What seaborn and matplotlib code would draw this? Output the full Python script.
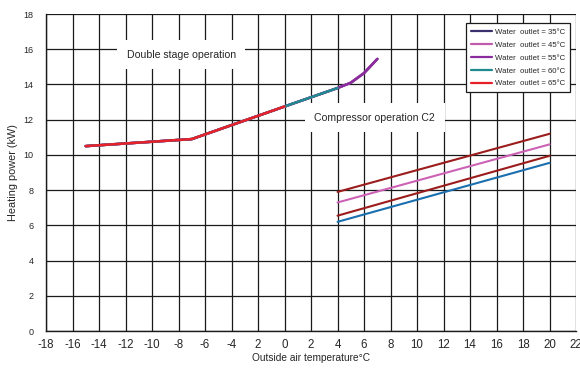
import matplotlib
matplotlib.use("Agg")
import matplotlib.pyplot as plt
import seaborn as sns
import pandas as pd

# Double stage operation curve (shared by all outlet temperatures)
ds_temp = [-15, -7, 0, 4, 5, 6, 7]
ds_power = [10.5, 10.9, 12.75, 13.8, 14.1, 14.65, 15.45]

# Outlet temperature series and how far each runs on the double stage curve
outlets = ["Water  outlet = 35°C", "Water  outlet = 45°C", "Water  outlet = 55°C",
           "Water  outlet = 60°C", "Water  outlet = 65°C"]
outlet_end = [7, 7, 7, 4, 0]
outlet_colors = ["#3b2f6e", "#c25aae", "#8a2c9e", "#1f8a8f", "#e8202a"]

# Compressor operation C2 lines
c2_temp = [4, 20]
c2_upper = [7.9, 11.2]
c2_pink = [7.3, 10.6]
c2_lower = [6.55, 9.95]
c2_blue = [6.2, 9.55]
c2_colors = ["#9b1c1c", "#cc62b6", "#9b1c1c", "#1a6fae"]

x_ticks = list(range(-18, 23, 2))
x_labels = ["-18", "-16", "-14", "-12", "-10", "-8", "-6", "-4", "2", "0",
            "2", "4", "6", "8", "10", "12", "14", "16", "18", "20", "22"]
y_ticks = list(range(0, 19, 2))

sns.set_style("white")
plt.rcParams["font.family"] = ["Liberation Sans", "DejaVu Sans"]

fig = plt.figure(figsize=(5.8, 3.72), dpi=100)
ax = fig.add_axes([0.0793, 0.1102, 0.914, 0.852])

rows = []
for name, end in zip(outlets, outlet_end):
    for t, p in zip(ds_temp, ds_power):
        if t <= end:
            rows.append({"temp": t, "power": p, "series": name})
ds_df = pd.DataFrame(rows)
sns.lineplot(data=ds_df, x="temp", y="power", hue="series", hue_order=outlets,
             palette=outlet_colors, sort=False, linewidth=1.8, ax=ax, zorder=3)

c2_rows = []
for i, vals in enumerate([c2_upper, c2_pink, c2_lower, c2_blue]):
    for t, p in zip(c2_temp, vals):
        c2_rows.append({"temp": t, "power": p, "line": f"c2_{i}"})
c2_df = pd.DataFrame(c2_rows)
for i, (key, grp) in enumerate(c2_df.groupby("line", sort=True)):
    sns.lineplot(data=grp, x="temp", y="power", color=c2_colors[i],
                 linewidth=1.5, ax=ax, legend=False, zorder=3)

ax.set_xlim(-18, 22)
ax.set_ylim(0, 18)
ax.set_xticks(x_ticks)
ax.set_xticklabels(x_labels, fontsize=8.3)
ax.set_yticks(y_ticks)
ax.set_yticklabels([str(v) for v in y_ticks], fontsize=6.5)
ax.grid(True, color="#1a1a1a", linewidth=0.9)
ax.set_axisbelow(True)
for side in ["top", "right"]:
    ax.spines[side].set_visible(False)
for side in ["left", "bottom"]:
    ax.spines[side].set_color("#1a1a1a")
    ax.spines[side].set_linewidth(1.0)
ax.tick_params(axis="x", direction="inout", length=6, width=0.9, pad=3)
ax.tick_params(axis="y", direction="out", length=4, width=0.9, pad=5)

ax.set_xlabel("Outside air temperature°C", fontsize=7.3, labelpad=1)
ax.set_ylabel("Heating power (kW)", fontsize=7.8, labelpad=4)

ax.text(-7.8, 15.7, "Double stage operation", fontsize=7.6, ha="center", va="center",
        bbox=dict(facecolor="white", edgecolor="none", boxstyle="square,pad=0.9"),
        zorder=2.5)
ax.text(6.8, 12.1, "Compressor operation C2", fontsize=7.6, ha="center", va="center",
        bbox=dict(facecolor="white", edgecolor="none", boxstyle="square,pad=0.9"),
        zorder=2.5)

leg = ax.legend(loc="upper right", bbox_to_anchor=(0.9955, 0.983), fontsize=5.6,
                frameon=True, fancybox=False, handlelength=2.7, handletextpad=0.3,
                labelspacing=0.7, borderpad=0.65, title=None)
leg.get_frame().set_edgecolor("#1a1a1a")
leg.get_frame().set_linewidth(0.9)
leg.get_frame().set_alpha(1)
for h in leg.get_lines():
    h.set_linewidth(1.6)

fig.savefig("out.png", dpi=100)
